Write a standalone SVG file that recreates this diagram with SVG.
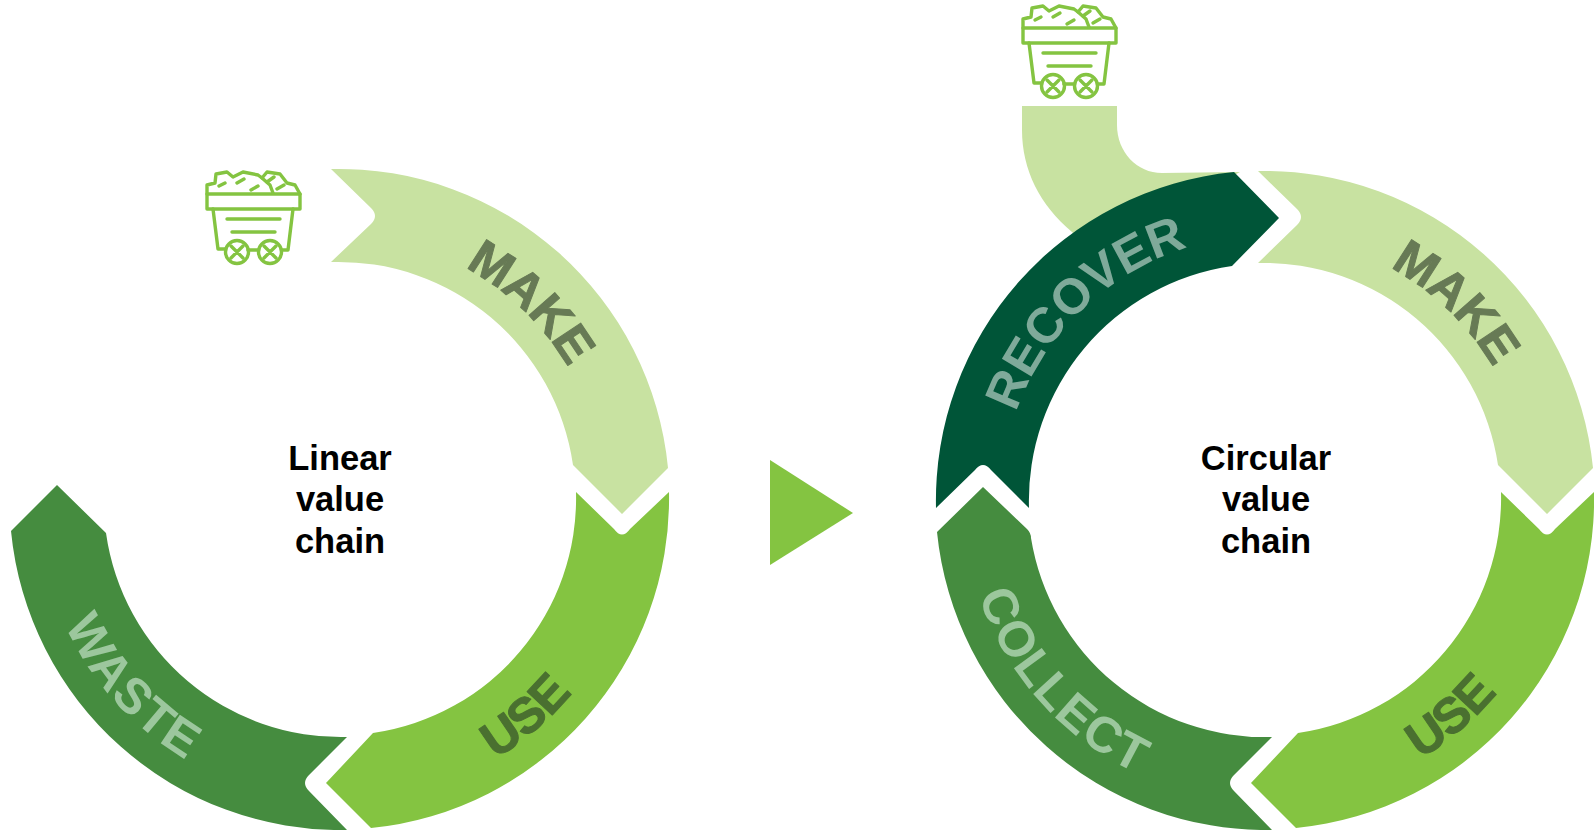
<svg xmlns="http://www.w3.org/2000/svg" width="1594" height="830" viewBox="0 0 1594 830">
<style>
.lbl{font-family:"Liberation Sans",Arial,sans-serif;font-weight:700;font-size:50px;text-rendering:geometricPrecision}
.heavy{stroke-width:1;stroke-linejoin:round;letter-spacing:-.5px}
.wide{letter-spacing:1.5px}
.ctr{font-family:"Liberation Sans",Arial,sans-serif;font-weight:700;font-size:34.5px;fill:#000;text-anchor:middle}
.cart *{fill:none;stroke:#84c441;stroke-width:3.4;stroke-linejoin:round;stroke-linecap:round}
.light{fill:#c8e2a1}.mid{fill:#84c441}.green{fill:#458c3f}.deep{fill:#005538}
</style>
<defs>
<path id="topArc" d="M-228.6-132A264 264 0 0 1 228.6-132"/>
<path id="botArc" d="M-261.5 151A302 302 0 0 0 261.5 151"/>
<g id="cartIcon" class="cart">
<rect x="207" y="194" width="93" height="15"/>
<path d="M207 194V185L215 183L216 174L227 172L233 177L243 172L258 175L262 178L267 172L280 174L287 183L295 185L300 194"/>
<path d="M262 178L270 185L273 193"/>
<path d="M219 186L225 183M237 183L244 179M251 190L258 186M267 182L274 177M277 189L284 185"/>
<path d="M213 209L218 249H225M248 250H258M282 250H288L293 209"/>
<path d="M227 219H280M232 232H275"/>
<circle cx="237" cy="252" r="11.5"/><circle cx="270" cy="252" r="11.5"/>
<path d="M231 246L243 258M243 246L231 258M264 246L276 258M276 246L264 258"/>
</g>
</defs>
<g id="linear-chain">
<g id="make-linear"><path class="light" d="M331 169A331 331 0 0 1 668 468L622 514L573 465A237 237 0 0 0 331 262L371 224Q379 216 371 208Z"/><text class="lbl heavy" fill="#677a55" stroke="#677a55" transform="translate(340 500) rotate(44)"><textPath href="#topArc" startOffset="50%" text-anchor="middle">MAKE</textPath></text></g>
<g id="use-linear"><path class="mid" d="M576 492L614 529Q622 540 630 529L669 492A331 331 0 0 1 371 828L326 783L373 733A237 237 0 0 0 576 492Z"/><text class="lbl heavy" fill="#4a7030" stroke="#4a7030" transform="translate(340 500) rotate(-40.6)"><textPath href="#botArc" startOffset="50%" text-anchor="middle">USE</textPath></text></g>
<g id="waste-linear"><path class="green" d="M57 485L106 533A237 237 0 0 0 347 737L309 775Q301 783 309 791L347 830A331 331 0 0 1 11 531Z"/><text class="lbl wide" fill="#9cc79d" transform="translate(340 500) rotate(48)"><textPath href="#botArc" startOffset="50%" text-anchor="middle">WASTE</textPath></text></g>
<g id="label-linear"><text class="ctr" y="470"><tspan x="340">Linear</tspan><tspan x="340" y="511">value</tspan><tspan x="340" y="553">chain</tspan></text></g>
<use id="cart-linear" href="#cartIcon"/>
</g>
<g id="connectors"><path id="arrow" fill="#84c441" d="M770 460L853 513L770 565Z"/></g>
<g id="circular-chain">
<g id="feed"><path class="light" d="M1022 106H1117V125C1117 152 1137 173 1162 173L1240 172L1090 250L1072 232C1040 205 1022 170 1022 130Z"/></g>
<g id="make-circular"><path class="light" d="M1258 171A330 330 0 0 1 1593 468L1547 514L1498 465A237 237 0 0 0 1258 263L1297 225Q1305 217 1297 209Z"/><text class="lbl heavy" fill="#677a55" stroke="#677a55" transform="translate(1265 500) rotate(44)"><textPath href="#topArc" startOffset="50%" text-anchor="middle">MAKE</textPath></text></g>
<g id="use-circular"><path class="mid" d="M1501 492L1539 529Q1547 540 1555 529L1594 492A330 330 0 0 1 1296 828L1251 783L1298 733A237 237 0 0 0 1501 492Z"/><text class="lbl heavy" fill="#4a7030" stroke="#4a7030" transform="translate(1265 500) rotate(-40.6)"><textPath href="#botArc" startOffset="50%" text-anchor="middle">USE</textPath></text></g>
<g id="collect"><path class="green" d="M983 487L1027 529Q1031 533 1031 538A237 237 0 0 0 1272 737L1234 775Q1226 783 1234 791L1272 830A331 331 0 0 1 937 532Z"/><text class="lbl wide" fill="#9cc79d" transform="translate(1265 500) rotate(48.2)"><textPath href="#botArc" startOffset="50%" text-anchor="middle">COLLECT</textPath></text></g>
<g id="recover"><path class="deep" d="M936 508A330 330 0 0 1 1234 172L1279 218L1232 266A237 237 0 0 0 1029 508L991 470Q983 460 975 470Z"/><text class="lbl" fill="#7faa9a" transform="translate(1265 500) rotate(-43.8)"><textPath href="#topArc" startOffset="50%" text-anchor="middle">RECOVER</textPath></text></g>
<g id="label-circular"><text class="ctr" y="470"><tspan x="1266">Circular</tspan><tspan x="1266" y="511">value</tspan><tspan x="1266" y="553">chain</tspan></text></g>
<use id="cart-circular" href="#cartIcon" transform="translate(816 -166)"/>
</g>
</svg>
